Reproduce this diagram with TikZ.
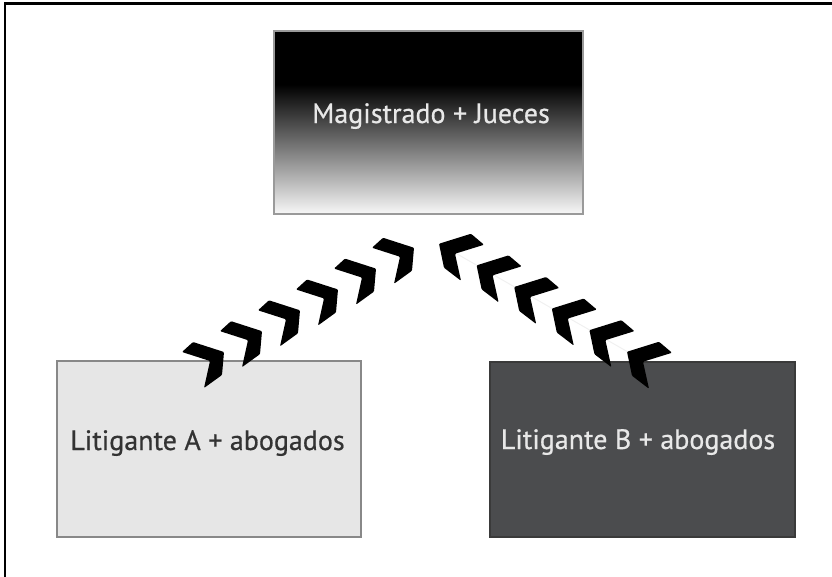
\documentclass[tikz,border=0pt]{standalone}
\usepackage{fontspec}
\setmainfont{PT Sans}[FakeBold=0.6]
\usetikzlibrary{calc}
\definecolor{litAfill}{HTML}{E6E6E6}
\definecolor{litAline}{HTML}{888888}
\definecolor{litBfill}{HTML}{4B4C4E}
\definecolor{litBline}{HTML}{3A3A3A}
\definecolor{magline}{HTML}{9A9A9A}
\definecolor{lighttext}{HTML}{E8E8E8}
\definecolor{darktext}{HTML}{333333}
\begin{document}
\begin{tikzpicture}[x=1pt,y=-1pt,
  box/.style={rectangle, inner sep=0pt, line width=1.5pt},
  lbl/.style={anchor=base, inner sep=0pt, font=\fontsize{28}{32}\selectfont},
  chevL/.pic={\fill[black, rounded corners=1pt] (-41,0) -- (-30,-10) -- (1,0) -- (-1,23) -- (-19,36) -- (-13,9) -- cycle;},
  chevR/.pic={\fill[black, rounded corners=1pt] (44,1) -- (31,-10) -- (-1,0) -- (4,24) -- (21,37) -- (15,10) -- cycle;}
]
\useasboundingbox (0,0) rectangle (832,576);
% outer frame
\draw[line width=2.5pt] (5,580) |- (840,3.5);

% top box
\node[box, draw=magline, minimum width=309pt, minimum height=183pt,
  path picture={
    \fill[black] (path picture bounding box.north west) rectangle ([yshift=-54pt]path picture bounding box.north east);
    \shade[top color=black, bottom color=white!97!black]
      ([yshift=-53.5pt]path picture bounding box.north west) rectangle (path picture bounding box.south east);
  }] (mag) at (428.5,122.5) {};
\node[lbl, text=lighttext] (magT) at ($(mag.center)+(2.5,0.5)$) {Magistrado + Jueces};

% bottom boxes
\node[box, draw=litAline, fill=litAfill, line width=2pt, minimum width=304pt, minimum height=176pt] (litA) at (209,449) {};
\node[lbl, text=darktext] (litAT) at ($(litA.center)+(-1.5,1)$) {Litigante A + abogados};

\node[box, draw=litBline, fill=litBfill, minimum width=305pt, minimum height=175pt] (litB) at (642.5,449.5) {};
\node[lbl, text=lighttext] (litBT) at ($(litB.center)+(-4.5,-0.5)$) {Litigante B + abogados};

% chevron connectors
\coordinate (aS) at ($(litA.north)+(14,-8)$);
\coordinate (aE) at ($(mag.south)+(-15.5,33)$);
\coordinate (bS) at ($(litB.north)+(-14.5,-9.5)$);
\coordinate (bE) at ($(mag.south)+(11.5,29)$);

\draw[gray!12, line width=1pt] ($(bE)+(8,5)$) -- ($(bS)+(10,6)$);

\foreach \i in {0,...,5}{
  \pic at ($(aS)!\i/5!(aE)$) {chevL};
  \pic at ($(bS)!\i/5!(bE)$) {chevR};
}
\end{tikzpicture}
\end{document}
